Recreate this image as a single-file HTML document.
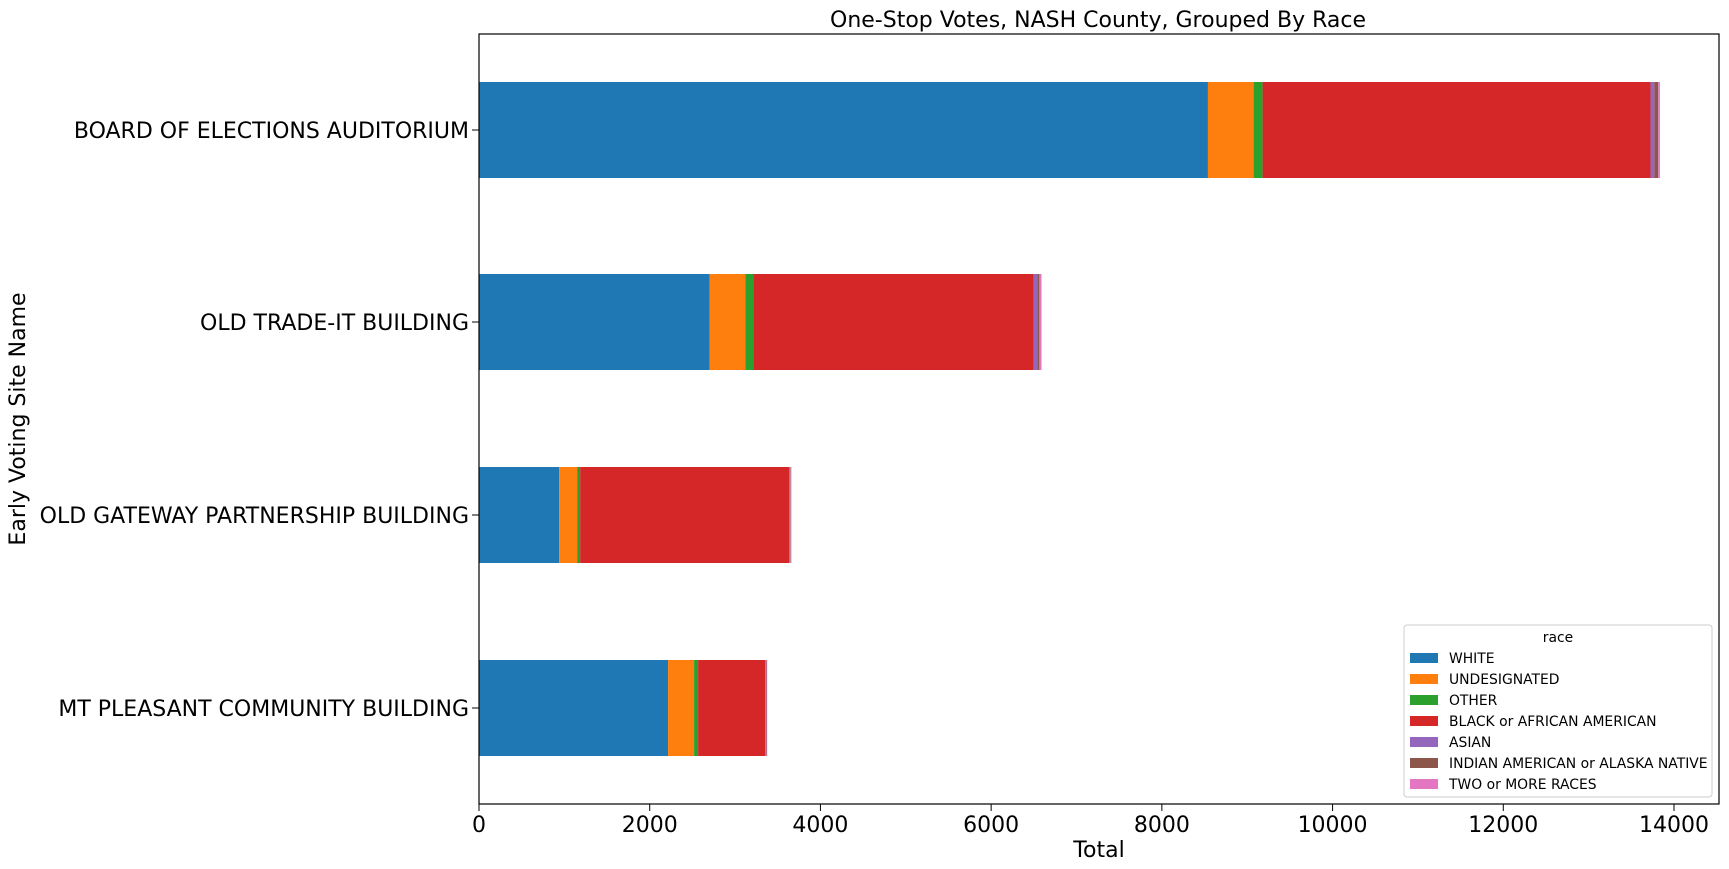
<!DOCTYPE html>
<html><head><meta charset="utf-8"><style>
body{margin:0;background:#fff;}
svg{font-family:"DejaVu Sans","Liberation Sans",sans-serif;display:block;}
</style></head><body>
<svg id="chart" width="1729" height="869" viewBox="0 0 1729 869">
<text x="1098" y="27" font-size="22" text-anchor="middle">One-Stop Votes, NASH County, Grouped By Race</text>
<g id="bars"></g>
<rect x="479" y="34" width="1240" height="770" fill="none" stroke="#000" stroke-width="1.2"/>
<g id="axes"></g>
<text x="564" y="857" font-size="22" text-anchor="middle" transform="translate(535,0)">Total</text>
<text x="0" y="0" font-size="22" text-anchor="middle" transform="translate(25,419) rotate(-90)">Early Voting Site Name</text>
<g id="legend"></g>
</svg>
<script>
const sites = ["BOARD OF ELECTIONS AUDITORIUM","OLD TRADE-IT BUILDING","OLD GATEWAY PARTNERSHIP BUILDING","MT PLEASANT COMMUNITY BUILDING"];
const races = ["WHITE","UNDESIGNATED","OTHER","BLACK or AFRICAN AMERICAN","ASIAN","INDIAN AMERICAN or ALASKA NATIVE","TWO or MORE RACES"];
const colors = ["#1f77b4","#ff7f0e","#2ca02c","#d62728","#9467bd","#8c564b","#e377c2"];
const white = [8540, 2700, 940, 2215];
const undesignated = [535, 420, 210, 305];
const other = [105, 95, 35, 47];
const black = [4545, 3285, 2449, 786];
const asian = [45, 40, 12, 8];
const indian = [45, 25, 6, 8];
const twoMore = [20, 25, 8, 7];
const xTicks = [0,2000,4000,6000,8000,10000,12000,14000];
const series = [white, undesignated, other, black, asian, indian, twoMore];
const NS="http://www.w3.org/2000/svg";
const x0=479, xScale=(1674-479)/14000;
const X=v=>x0+v*xScale;
const centers=[130,322,515,708], barH=96;
const Y=i=>centers[i];
const bars=document.getElementById('bars');
sites.forEach((s,i)=>{
  let acc=0;
  series.forEach((ser,k)=>{
    const r=document.createElementNS(NS,'rect');
    r.setAttribute('x',X(acc));r.setAttribute('width',Math.max(0,X(acc+ser[i])-X(acc)));
    r.setAttribute('y',Y(i)-barH/2);r.setAttribute('height',barH);r.setAttribute('fill',colors[k]);
    
    
    bars.appendChild(r);acc+=ser[i];
  });
});
const axes=document.getElementById('axes');
xTicks.forEach(t=>{
  const l=document.createElementNS(NS,'line');
  l.setAttribute('x1',X(t));l.setAttribute('x2',X(t));l.setAttribute('y1',804);l.setAttribute('y2',811);l.setAttribute('stroke','#000');
  
  
  axes.appendChild(l);
  const tx=document.createElementNS(NS,'text');
  tx.setAttribute('x',X(t));tx.setAttribute('y',832);tx.setAttribute('font-size','22');tx.setAttribute('text-anchor','middle');
  tx.textContent=t;
  
  
  axes.appendChild(tx);
});
sites.forEach((s,i)=>{
  const l=document.createElementNS(NS,'line');
  l.setAttribute('x1',472);l.setAttribute('x2',479);l.setAttribute('y1',Y(i));l.setAttribute('y2',Y(i));l.setAttribute('stroke','#000');
  
  
  axes.appendChild(l);
  const tx=document.createElementNS(NS,'text');
  tx.setAttribute('x',469);tx.setAttribute('y',Y(i)+8);tx.setAttribute('font-size','22');tx.setAttribute('text-anchor','end');
  tx.textContent=s;
  
  
  axes.appendChild(tx);
});
const lg=document.getElementById('legend');
const box=document.createElementNS(NS,'rect');
box.setAttribute('x',1404);box.setAttribute('y',625);box.setAttribute('width',308);box.setAttribute('height',172);box.setAttribute('rx',3);
box.setAttribute('fill','#fff');box.setAttribute('stroke','#ccc');


lg.appendChild(box);
const tt=document.createElementNS(NS,'text');
tt.setAttribute('x',1558);tt.setAttribute('y',642);tt.setAttribute('font-size','13.9');tt.setAttribute('text-anchor','middle');tt.textContent='race';


lg.appendChild(tt);
races.forEach((r,k)=>{
  const cy=658+k*21;
  const p=document.createElementNS(NS,'rect');
  p.setAttribute('x',1410);p.setAttribute('y',cy-5);p.setAttribute('width',28);p.setAttribute('height',10);p.setAttribute('fill',colors[k]);
  
  
  lg.appendChild(p);
  const t=document.createElementNS(NS,'text');
  t.setAttribute('x',1449);t.setAttribute('y',cy+5);t.setAttribute('font-size','13.9');t.textContent=r;
  
  
  lg.appendChild(t);
});
</script>
</body></html>
